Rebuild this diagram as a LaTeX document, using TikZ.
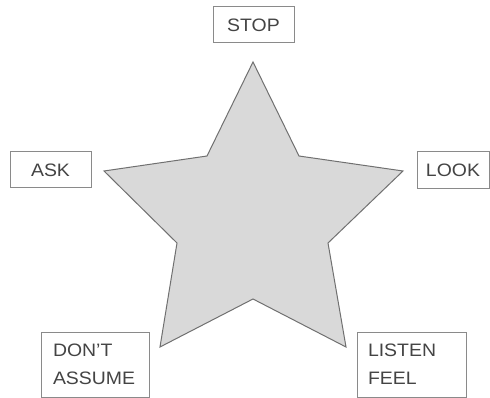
\documentclass[tikz,border=0pt]{standalone}
\usepackage{fontspec}
\setmainfont[FakeStretch=1.08]{Liberation Sans}
\definecolor{boxgray}{HTML}{8A8A8A}
\definecolor{txtgray}{HTML}{444444}
\definecolor{starline}{HTML}{707070}
\definecolor{starfill}{HTML}{D9D9D9}
\begin{document}
\begin{tikzpicture}[x=1pt,y=-1pt,
  box/.style={draw=boxgray, line width=1pt, text=txtgray,
    font=\fontsize{18}{28}\selectfont, inner sep=0pt},
  twoline/.style={box, align=left}]
\useasboundingbox (0,0) rectangle (490,398);
\fill[white] (0,0) rectangle (490,398);
\draw[draw=starline, fill=starfill, line width=1pt, line join=miter]
  (253,62) -- (299,156) -- (403,171) -- (328,243) -- (346,347)
  -- (253,299) -- (160,347) -- (177,243) -- (104,171) -- (207,156) -- cycle;
\node[box, minimum width=81pt, minimum height=36pt] (stop) at (253.5,25) {STOP};
\node[box, minimum width=81pt, minimum height=36pt] (ask) at (50.5,170) {ASK};
\node[box, minimum width=72pt, minimum height=37pt] (look) at (453,170.5) {LOOK};
\node[twoline, text width=84pt, minimum width=108pt, minimum height=65pt] (assume) at (95,364.5) {DON’T\\ASSUME};
\node[twoline, text width=87pt, minimum width=109pt, minimum height=65pt] (listen) at (411.5,364.5) {LISTEN\\FEEL};
\end{tikzpicture}
\end{document}
